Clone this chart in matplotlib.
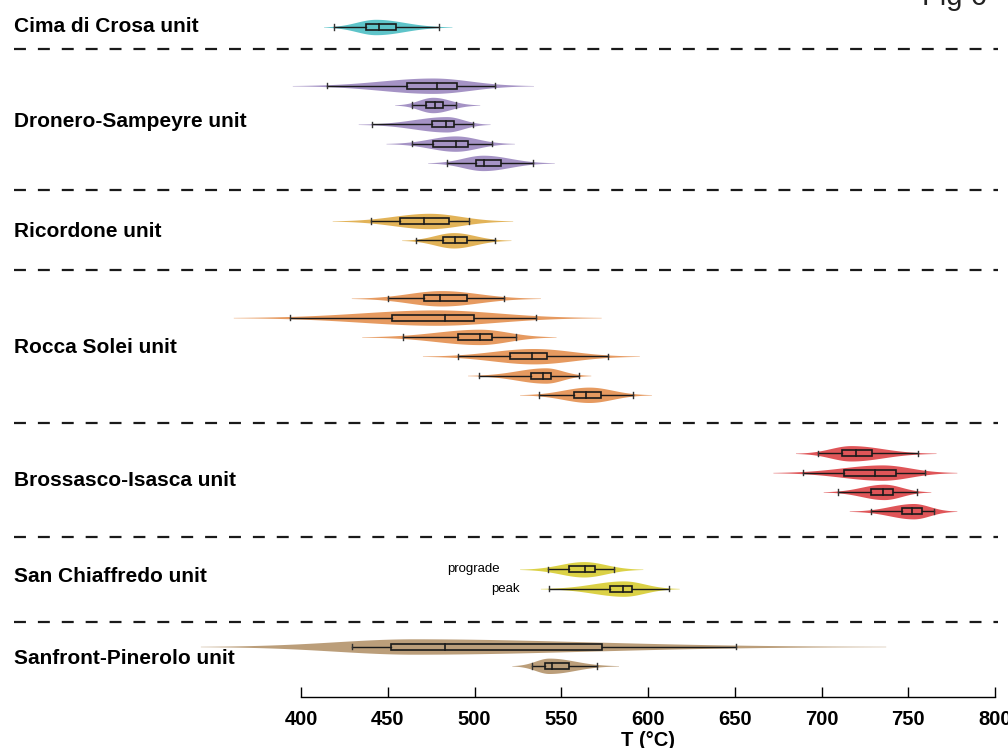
import matplotlib
matplotlib.use('Agg')
import matplotlib.pyplot as plt
import numpy as np

plt.rcParams['font.family'] = ['Liberation Sans', 'DejaVu Sans']
plt.rcParams['lines.scale_dashes'] = False

# units and colours
units = ['Cima di Crosa unit', 'Dronero-Sampeyre unit', 'Ricordone unit',
         'Rocca Solei unit', 'Brossasco-Isasca unit', 'San Chiaffredo unit',
         'Sanfront-Pinerolo unit']
colors = ['#5ec4c9', '#a593c5', '#e2b358', '#e69a60', '#df5558', '#dbd146',
          '#bb9e7a']
n_per_unit = [1, 5, 2, 6, 4, 2, 2]

# summary values of each violin (T in degC), top to bottom
w_lo = [419, 415, 464, 441, 463.8, 484, 440.3, 466.3, 450.3, 393.7, 459,
        490.3, 502.6, 537.2, 698, 689.3, 709.3, 728.5, 542.2, 543, 429.5, 533]
q1 = [437.5, 461, 472, 475.3, 476, 500.7, 457.3, 481.7, 471.1, 452.6, 490.5,
      520.5, 532.7, 557.5, 712, 713.1, 728.3, 746.2, 554.5, 578.1, 452, 540.8]
med = [445, 478.6, 477, 483.6, 489.5, 505.7, 470.7, 488.6, 480.3, 482.8,
       503.4, 533.4, 539.7, 564.4, 719.9, 731, 735.2, 752.2, 563.5, 585.6, 483,
       544.4]
q3 = [455, 489.7, 481.6, 488.2, 496, 515, 485.5, 495.5, 495.9, 499.5, 510.3,
      542, 544.3, 573.1, 729.3, 742.9, 741.4, 758.1, 569.5, 591, 573.7, 554.7]
w_hi = [479.5, 512, 489.3, 499.3, 510, 534, 496.8, 511.8, 517.2, 535.3, 523.9,
        576.9, 560.4, 591.4, 755.8, 759.8, 755, 765, 580.4, 612.3, 650.5, 570.6]
v_lo = [413, 395, 454, 433, 449, 473, 418, 458, 429, 361, 435, 470, 496, 526,
        685, 672, 701, 716, 526, 538, 342, 521.5]
v_hi = [487, 534, 503, 509, 523, 546, 522, 521, 538, 573, 547, 595, 567, 602,
        766, 778, 763, 778, 597, 618, 737, 583]
v_peak = [443, 476, 476, 484, 489, 505, 474, 488, 481, 478, 503, 534, 541,
          566, 717, 735, 736, 753, 563, 586, 465, 543]

ticks = [400, 450, 500, 550, 600, 650, 700, 750, 800]

# layout (pixel rows, y axis runs top-down)
group_first = [27, 85.7, 221, 298.3, 453.3, 569.3, 646.5]
label_y = [26.5, 121.5, 231.5, 347, 480.5, 577, 659]
step = 19.3
sep_y = [49, 190, 270, 423, 537, 622]
px_per_deg = 1.735
x0_px = 301

fig = plt.figure(figsize=(10.08, 7.48), dpi=100)
ax = fig.add_axes([0, 0, 1, 1])
ax.set_xlim(400 - x0_px / px_per_deg, 400 + (1008 - x0_px) / px_per_deg)
ax.set_ylim(748, 0)

ys, cols = [], []
for g, n in enumerate(n_per_unit):
    for k in range(n):
        ys.append(group_first[g] + k * step)
        cols.append(colors[g])

H = 7.7
for i, y in enumerate(ys):
    x = np.linspace(v_lo[i], v_hi[i], 300)
    sl = (v_peak[i] - v_lo[i]) / 2.7
    sr = (v_hi[i] - v_peak[i]) / 2.7
    s = np.where(x < v_peak[i], sl, sr)
    h = H * np.exp(-0.5 * ((x - v_peak[i]) / s) ** 2)
    ax.fill_between(x, y - h, y + h, color=cols[i], lw=0, zorder=2)
    # whiskers + caps
    ax.plot([w_lo[i], q1[i]], [y, y], color='#1a1a1a', lw=1.0, zorder=3)
    ax.plot([q3[i], w_hi[i]], [y, y], color='#1a1a1a', lw=1.0, zorder=3)
    ax.plot([w_lo[i], w_lo[i]], [y - 2.7, y + 2.7], color='#333', lw=1.0, zorder=3)
    ax.plot([w_hi[i], w_hi[i]], [y - 2.7, y + 2.7], color='#333', lw=1.0, zorder=3)
    ax.add_patch(plt.Rectangle((q1[i], y - 3), q3[i] - q1[i], 6, fill=False,
                               ec='#1a1a1a', lw=1.2, zorder=4))
    ax.plot([med[i], med[i]], [y - 3, y + 3], color='#1a1a1a', lw=1.2, zorder=4)

for y in sep_y:
    ax.axhline(y, xmin=14 / 1008, xmax=998 / 1008, color='#1a1a1a', lw=1.6,
               dashes=(8.6, 8.6), zorder=1)

for g, name in enumerate(units):
    ax.text(14 / 1008, label_y[g], name, transform=ax.get_yaxis_transform(),
            fontsize=15, fontweight='bold', va='center', ha='left')

# San Chiaffredo sub labels
sc = sum(n_per_unit[:5])
ax.text(514.7, ys[sc], 'prograde', fontsize=9.5, ha='right', va='center')
ax.text(526.2, ys[sc + 1], 'peak', fontsize=9.5, ha='right', va='center')

for side in ['top', 'left', 'right']:
    ax.spines[side].set_visible(False)
ax.spines['bottom'].set_position(('data', 696.5))
ax.spines['bottom'].set_bounds(400, 800)
ax.spines['bottom'].set_linewidth(1.0)
ax.set_xticks(ticks)
ax.set_xticklabels([str(t) for t in ticks], fontweight='bold')
ax.tick_params(axis='x', direction='in', length=7, width=1.0, pad=10,
               labelsize=14.5)
ax.set_yticks([])
ax.text(600, 740, 'T (°C)', fontsize=14.5, fontweight='bold', ha='center',
        va='center')

fig.text(922 / 1008, 1 - 5 / 748, 'Fig 6', fontsize=21, color='#222',
         ha='left', va='baseline')

fig.savefig('out.png', dpi=100)
